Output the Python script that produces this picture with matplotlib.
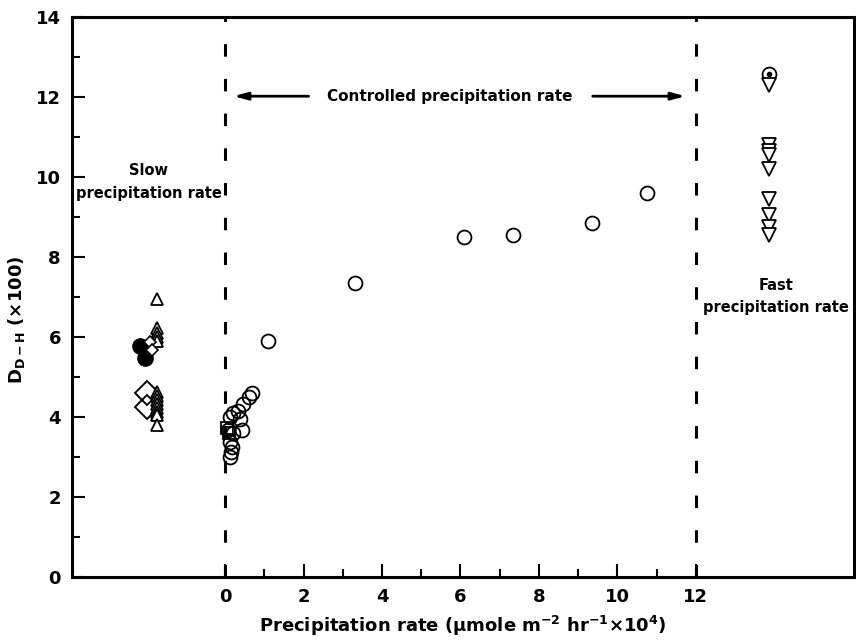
import matplotlib
matplotlib.use("Agg")
import matplotlib.pyplot as plt
from matplotlib.ticker import MultipleLocator, FixedLocator

plt.rcParams['font.family'] = ['DejaVu Sans']
plt.rcParams['font.weight'] = 'bold'
plt.rcParams['mathtext.default'] = 'bf'
plt.rcParams['lines.scale_dashes'] = False

# Controlled precipitation rate (open circles)
ctrl_x = [0.13, 0.15, 0.18, 0.13, 0.20, 0.43, 0.08, 0.38, 0.13, 0.33, 0.20, 0.46, 0.61, 0.69,
          1.10, 3.30, 6.10, 7.35, 9.35, 10.75]
ctrl_y = [3.00, 3.12, 3.25, 3.37, 3.60, 3.67, 3.67, 3.96, 3.99, 4.15, 4.10, 4.33, 4.49, 4.61,
          5.90, 7.35, 8.50, 8.55, 8.85, 9.60]
ctrl_sq_x = [0.05, 0.10]
ctrl_sq_y = [3.72, 3.60]

# Slow precipitation rate
slow_fill_x = [-2.17, -2.05]
slow_fill_y = [5.78, 5.48]
slow_bigdia_x = [-2.00, -2.00]
slow_bigdia_y = [4.60, 4.25]
slow_smalldia_x = [-1.90, -1.85]
slow_smalldia_y = [5.88, 5.68]
slow_tri_x = [-1.73] * 13
slow_tri_y = [6.95, 6.22, 6.10, 6.00, 5.90, 4.62, 4.52, 4.42, 4.32, 4.22, 4.12, 4.05, 3.80]

# Fast precipitation rate
fast_dot_x = [13.87]
fast_dot_y = [12.58]
fast_tri_x = [13.87] * 9
fast_tri_y = [12.30, 10.80, 10.65, 10.55, 10.20, 9.45, 9.05, 8.75, 8.55]

fig = plt.figure(figsize=(8.56, 6.41), dpi=100)
ax = fig.add_axes([0.0841, 0.0998, 0.9136, 0.8737])

# Region boundaries
for xb in (0, 12):
    ax.plot([xb, xb], [0, 14], color='black', lw=2.2, linestyle=(0, (9, 16)), zorder=1)

ax.plot(ctrl_x, ctrl_y, 'o', ms=10, mfc='none', mec='black', mew=1.3, zorder=3)
ax.plot(ctrl_sq_x, ctrl_sq_y, 's', ms=8, mfc='none', mec='black', mew=1.3, zorder=3)

ax.plot(slow_fill_x, slow_fill_y, 'o', ms=11, mfc='black', mec='black', zorder=3)
ax.plot(slow_bigdia_x, slow_bigdia_y, 'D', ms=12, mfc='none', mec='black', mew=1.4, zorder=3)
ax.plot(slow_smalldia_x, slow_smalldia_y, 'D', ms=6, mfc='white', mec='black', mew=1.2, zorder=4)
ax.plot(slow_tri_x, slow_tri_y, '^', ms=8, mfc='white', mec='black', mew=1.3, zorder=3)

ax.plot(fast_dot_x, fast_dot_y, 'o', ms=10, mfc='none', mec='black', mew=1.3, zorder=3)
ax.plot(fast_dot_x, fast_dot_y, 'o', ms=3, mfc='black', mec='black', zorder=4)
ax.plot(fast_tri_x, fast_tri_y, 'v', ms=10, mfc='white', mec='black', mew=1.3, zorder=3)

# Region captions
ax.text(5.73, 12.02, 'Controlled precipitation rate', ha='center', va='center',
        fontsize=11, fontweight='bold')
arrow = dict(arrowstyle='-|>,head_length=0.8,head_width=0.22', color='black', lw=2.0)
ax.annotate('', xy=(0.15, 12.02), xytext=(2.2, 12.02), arrowprops=arrow)
ax.annotate('', xy=(11.8, 12.02), xytext=(9.3, 12.02), arrowprops=arrow)

ax.text(-1.95, 10.15, 'Slow', ha='center', va='center', fontsize=10.5, fontweight='bold')
ax.text(-1.95, 9.58, 'precipitation rate', ha='center', va='center', fontsize=10.5,
        fontweight='bold')
ax.text(14.05, 7.28, 'Fast', ha='center', va='center', fontsize=10.5, fontweight='bold')
ax.text(14.05, 6.73, 'precipitation rate', ha='center', va='center', fontsize=10.5,
        fontweight='bold')

ax.set_xlim(-3.9, 16.03)
ax.set_ylim(0, 14)

ax.xaxis.set_major_locator(FixedLocator([0, 2, 4, 6, 8, 10, 12]))
ax.xaxis.set_minor_locator(FixedLocator([1, 3, 5, 7, 9, 11]))
ax.yaxis.set_major_locator(MultipleLocator(2))
ax.yaxis.set_minor_locator(MultipleLocator(1))
ax.tick_params(which='both', direction='in', top=False, right=False, width=1.5,
               labelsize=13, pad=8)
ax.tick_params(which='major', length=9.5)
ax.tick_params(which='minor', length=5.5)
for lab in ax.get_xticklabels() + ax.get_yticklabels():
    lab.set_fontweight('bold')

for sp in ax.spines.values():
    sp.set_linewidth(2.2)

ax.set_xlabel(r'Precipitation rate ($\mu$mole m$^{-2}$ hr$^{-1}$$\times$10$^{4}$)',
              fontsize=13, fontweight='bold', va='center')
ax.xaxis.set_label_coords(0.5, -0.088)
ax.set_ylabel(r'D$_{D-H}$ ($\times$100)', fontsize=13, fontweight='bold')
ax.yaxis.set_label_coords(-0.058, 0.46)

fig.savefig('out.png', dpi=100)
